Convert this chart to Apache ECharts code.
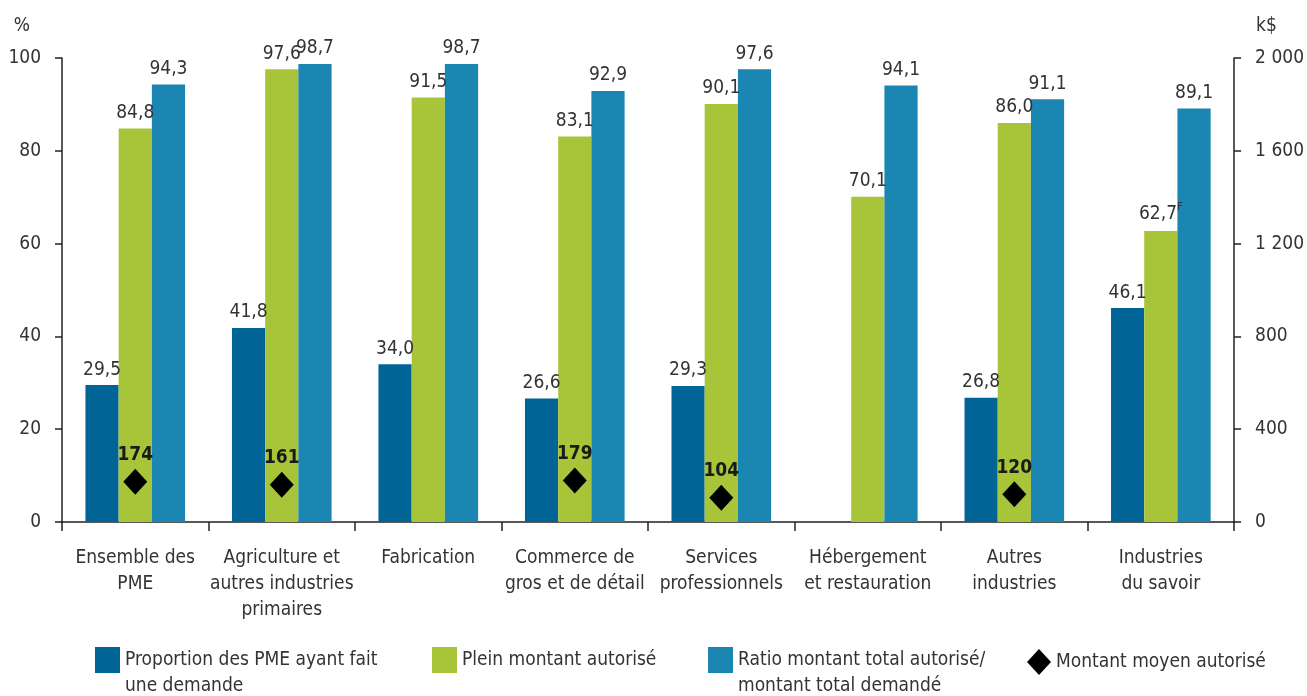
<!DOCTYPE html>
<html>
<head>
<meta charset="utf-8">
<script src="https://cdn.jsdelivr.net/npm/echarts@6/dist/echarts.min.js"></script>
<style>
html,body{margin:0;padding:0;background:#fff;}
#c{width:1307px;height:696px;}
</style>
</head>
<body>
<div id="c"></div>
<script>
const categories = ['Ensemble des\nPME', 'Agriculture et\nautres industries\nprimaires', 'Fabrication', 'Commerce de\ngros et de détail', 'Services\nprofessionnels', 'Hébergement\net restauration', 'Autres\nindustries', 'Industries\ndu savoir'];
const proportionDemande = [29.5, 41.8, 34.0, 26.6, 29.3, null, 26.8, 46.1];
const pleinMontant = [84.8, 97.6, 91.5, 83.1, 90.1, 70.1, 86.0, 62.7];
const ratioMontant = [94.3, 98.7, 98.7, 92.9, 97.6, 94.1, 91.1, 89.1];
const montantMoyen = [174, 161, null, 179, 104, null, 120, null];
const pleinFlags = ['', '', '', '', '', '', '', 'F'];
const leftTicks = {min: 0, max: 100, interval: 20};
const rightTicks = {min: 0, max: 2000, interval: 400};

const names = ['Proportion des PME ayant fait\nune demande', 'Plein montant autorisé', 'Ratio montant total autorisé/\nmontant total demandé', 'Montant moyen autorisé'];
const colors = ['#006596', '#a8c53a', '#1a86b1', '#000000'];

const FONT = "'Liberation Sans Narrow', 'DejaVu Sans Condensed', 'Roboto', sans-serif";
const TXT = '#333333';

const fmt = v => v.toFixed(1).replace('.', ',');

const chart = echarts.init(document.getElementById('c'));

function barLabel(flags) {
  return {
    show: true, position: 'top', distance: 6,
    fontFamily: FONT, fontSize: 19, color: TXT,
    formatter: p => {
      if (p.value == null) return '';
      const f = flags ? flags[p.dataIndex] : '';
      return fmt(p.value) + (f ? '{sup|' + f + '}' : '');
    },
    rich: { sup: { fontFamily: FONT, fontSize: 11, color: TXT, padding: [0, 0, 12, 0] } }
  };
}

function legendAt(name, left, top, icon, w, h) {
  const multi = name.indexOf('\n') >= 0;
  return {
    data: [{name: name, icon: icon}],
    left: left, top: multi ? top - 26 : top, orient: 'horizontal',
    padding: 0,
    itemWidth: w, itemHeight: h, itemGap: 0,
    selectedMode: false,
    formatter: n => (n.indexOf('\n') >= 0 ? '\n' + n : n),
    textStyle: { fontFamily: FONT, fontSize: 19, color: TXT, lineHeight: 26 }
  };
}

const option = {
  animation: false,
  backgroundColor: '#fff',
  textStyle: { fontFamily: FONT },
  grid: { left: 62, right: 72, top: 58, bottom: 174, containLabel: false },
  legend: [
    legendAt(names[0], 95, 647, 'rect', 25, 26),
    legendAt(names[1], 432, 647, 'rect', 25, 26),
    legendAt(names[2], 708, 647, 'rect', 25, 26),
    legendAt(names[3], 1027, 649, 'diamond', 24, 26)
  ],
  xAxis: {
    type: 'category',
    data: categories,
    axisLine: { show: true, lineStyle: { color: '#222', width: 1.5 } },
    axisTick: { show: true, length: 9, lineStyle: { color: '#222', width: 1.5 } },
    axisLabel: { fontFamily: FONT, fontSize: 19, color: TXT, lineHeight: 26, margin: 23, interval: 0 }
  },
  yAxis: [
    {
      type: 'value', min: leftTicks.min, max: leftTicks.max, interval: leftTicks.interval,
      name: '%', nameLocation: 'end', nameGap: 22,
      nameTextStyle: { fontFamily: FONT, fontSize: 19, color: TXT, align: 'right', padding: [0, 32, 0, 0] },
      axisLine: { show: true, lineStyle: { color: '#222', width: 1.5 } },
      axisTick: { show: true, length: 7, lineStyle: { color: '#222', width: 1.5 } },
      splitLine: { show: false },
      axisLabel: { fontFamily: FONT, fontSize: 19, color: TXT, margin: 21 }
    },
    {
      type: 'value', min: rightTicks.min, max: rightTicks.max, interval: rightTicks.interval,
      name: 'k$', nameLocation: 'end', nameGap: 22,
      nameTextStyle: { fontFamily: FONT, fontSize: 19, color: TXT, align: 'left', padding: [0, 0, 0, 22] },
      axisLine: { show: true, lineStyle: { color: '#222', width: 1.5 } },
      axisTick: { show: true, length: 7, lineStyle: { color: '#222', width: 1.5 } },
      splitLine: { show: false },
      axisLabel: { fontFamily: FONT, fontSize: 19, color: TXT, margin: 21,
        formatter: v => String(v).replace(/\B(?=(\d{3})+(?!\d))/g, ' ') }
    }
  ],
  series: [
    { name: names[0], type: 'bar', data: proportionDemande, barGap: '0%', barCategoryGap: '32%',
      itemStyle: { color: colors[0] }, label: barLabel(null) },
    { name: names[1], type: 'bar', data: pleinMontant, barGap: '0%', barCategoryGap: '32%',
      itemStyle: { color: colors[1] }, label: barLabel(pleinFlags) },
    { name: names[2], type: 'bar', data: ratioMontant, barGap: '0%', barCategoryGap: '32%',
      itemStyle: { color: colors[2] }, label: barLabel(null) },
    { name: names[3], type: 'scatter', yAxisIndex: 1, data: montantMoyen,
      symbol: 'diamond', symbolSize: [24, 26], z: 5,
      itemStyle: { color: colors[3], opacity: 1 },
      label: { show: true, position: 'top', distance: 4, fontFamily: FONT, fontSize: 19, fontWeight: 'bold', color: '#1a1a1a',
        formatter: p => p.value == null ? '' : String(p.value) } }
  ]
};
chart.setOption(option);
</script>
</body>
</html>
